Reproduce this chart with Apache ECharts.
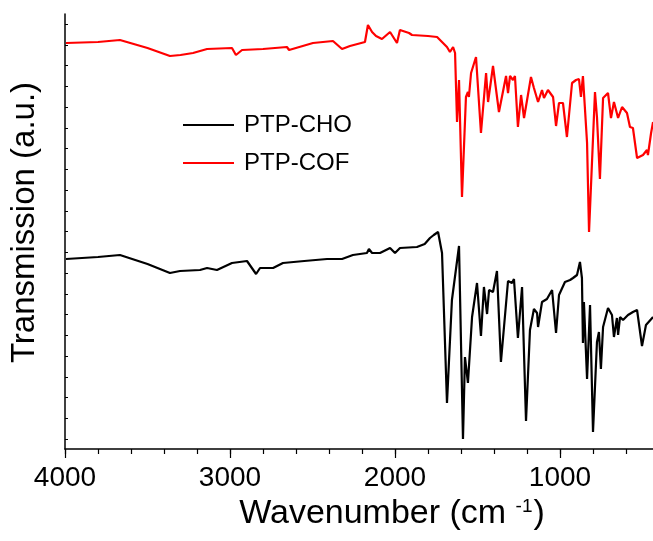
<!DOCTYPE html>
<html><head><meta charset="utf-8">
<script src="https://cdn.jsdelivr.net/npm/echarts@6/dist/echarts.min.js"></script>
<style>html,body{margin:0;padding:0;background:#fff}#c{width:653px;height:541px}</style>
</head><body><div id="c"></div>
<script>
// Wavenumber (cm-1) and transmission (a.u.) for PTP-COF (red)
const cofWave = [3994,3800,3667,3500,3364,3300,3224,3139,2988,2964,2927,2800,2655,2642,2497,2376,2321,2273,2182,2164,2139,2115,2079,2030,1988,1970,1915,1897,1800,1745,1715,1685,1667,1648,1636,1624,1612,1594,1570,1558,1552,1539,1509,1479,1448,1436,1406,1370,1327,1315,1303,1285,1273,1255,1236,1218,1176,1158,1133,1109,1097,1073,1042,1024,1006,982,958,927,903,885,873,861,836,824,788,776,758,739,709,691,673,648,624,594,576,558,533,497,473,467,448,436];
const cofT    = [406,407,409,401,393,394,396,400,401,394,399,400,402,399,406,408,400,403,407,424,417,413,410,417,406,419,416,414,413,412,407,402,397,402,396,327,369,252,352,357,352,376,392,316,376,347,383,337,373,356,373,369,373,322,354,331,372,361,347,359,351,359,352,323,346,346,312,366,369,370,352,373,306,217,357,332,270,351,356,331,347,331,342,336,322,321,291,294,299,294,316,327];
// PTP-CHO (black)
const choWave = [3994,3800,3667,3500,3364,3303,3182,3170,3139,3079,2988,2897,2842,2818,2788,2739,2679,2550,2412,2321,2255,2170,2158,2139,2091,2030,2000,1970,1867,1820,1788,1765,1739,1715,1685,1655,1612,1588,1576,1558,1533,1503,1479,1461,1442,1430,1406,1382,1358,1315,1291,1279,1255,1230,1206,1182,1158,1139,1133,1109,1079,1048,1036,1024,1006,970,939,921,897,879,867,861,855,836,818,800,776,764,752,739,709,685,673,655,648,636,618,588,558,533,503,479,467,436];
const choT    = [190,192,194,185,176,178,179,177,181,179,186,188,175,181,181,181,186,188,190,190,194,196,200,196,196,201,196,201,202,205,211,214,217,196,46,149,203,10,92,66,132,166,113,162,135,159,157,178,87,168,166,170,111,162,28,119,140,136,122,147,150,159,161,116,154,167,169,171,174,187,171,106,147,70,144,17,107,117,80,122,141,134,112,131,114,132,129,134,137,139,103,124,122,132];
const seriesNames = ['PTP-CHO','PTP-COF'];
const xMajorTicks = [4000,3000,2000,1000];
const xAxisTitle = 'Wavenumber (cm ';
const yAxisTitle = 'Transmission (a.u.)';

const zip = (a,b)=>a.map((v,i)=>[v,b[i]]);
const yTicks = []; for (let i=0;i<=20;i++) yTicks.push(10 + i*20.75);
const FONT = 'Liberation Sans, Arial, sans-serif';
const chart = echarts.init(document.getElementById('c'), null, {renderer:'canvas'});
chart.setOption({
  animation:false,
  backgroundColor:'#fff',
  textStyle:{fontFamily:FONT},
  grid:{left:65, top:14, width:594, height:435, containLabel:false, outerBoundsMode:'none'},
  legend:{
    data:seriesNames, orient:'vertical', left:183, top:113, padding:0,
    icon:'rect', itemWidth:51, itemHeight:2, itemGap:14,
    textStyle:{fontSize:24, color:'#000', fontFamily:FONT, padding:[0,0,0,5]},
    formatter:n=>n
  },
  xAxis:[{
    type:'value', inverse:true, min:400, max:4000, interval:200,
    axisLine:{lineStyle:{color:'#000', width:1.5}},
    axisTick:{inside:false, length:5, lineStyle:{color:'#000', width:1.2}},
    splitLine:{show:false},
    axisLabel:{fontSize:28, color:'#000', margin:15, fontFamily:FONT,
      formatter:v=> xMajorTicks.includes(v) ? String(v) : ''},
    name:'{a|'+xAxisTitle+'}{b|-1}{a|)}', nameLocation:'middle', nameGap:40,
    nameTextStyle:{padding:[0,0,0,60], rich:{
      a:{fontSize:34, color:'#000', fontFamily:FONT, lineHeight:38},
      b:{fontSize:19, color:'#000', fontFamily:FONT, verticalAlign:'top', padding:[2,1,0,0]}
    }}
  },{
    type:'value', inverse:true, min:400, max:4000, position:'bottom',
    axisLine:{show:false}, axisLabel:{show:false}, splitLine:{show:false},
    axisTick:{show:true, customValues:xMajorTicks, length:9, lineStyle:{color:'#000', width:1.2}}
  }],
  yAxis:{
    type:'value', min:0, max:435,
    axisLine:{show:true, lineStyle:{color:'#000', width:1.5}},
    axisTick:{show:true, inside:true, length:3, customValues:yTicks, lineStyle:{color:'#000', width:1}},
    axisLabel:{show:false}, splitLine:{show:false},
    name:yAxisTitle, nameLocation:'middle', nameGap:24,
    nameTextStyle:{fontSize:33, color:'#000', fontFamily:FONT, padding:[0,0,0,18]}
  },
  series:[
    {name:seriesNames[0], type:'line', data:zip(choWave,choT), showSymbol:false, symbol:'none',
     lineStyle:{color:'#000', width:2.2}, itemStyle:{color:'#000'}, clip:true},
    {name:seriesNames[1], type:'line', data:zip(cofWave,cofT), showSymbol:false, symbol:'none',
     lineStyle:{color:'#ff0000', width:2.2}, itemStyle:{color:'#ff0000'}, clip:true}
  ]
});
</script></body></html>
